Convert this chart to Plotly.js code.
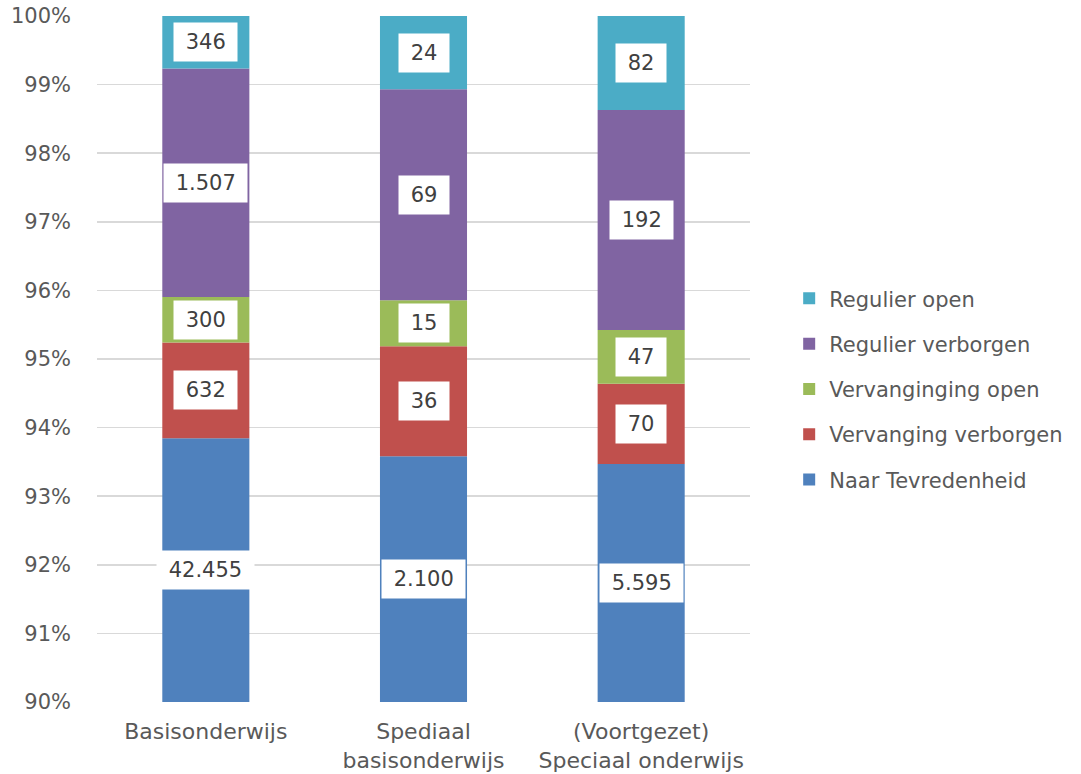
<!DOCTYPE html>
<html>
<head>
<meta charset="utf-8">
<script src="https://cdn.plot.ly/plotly-3.0.1.min.js"></script>
<style>html,body{margin:0;padding:0;background:#fff;}#chart{width:1081px;height:774px;}</style>
</head>
<body>
<div id="chart"></div>
<script>
const categories = ["Basisonderwijs", "Spediaal<br>basisonderwijs", "(Voortgezet)<br>Speciaal onderwijs"];
const seriesNames = ["Naar Tevredenheid", "Vervanging verborgen", "Vervanginging open", "Regulier verborgen", "Regulier open"];
const naarTevredenheid = [42455, 2100, 5595];
const vervangingVerborgen = [632, 36, 70];
const vervangingingOpen = [300, 15, 47];
const regulierVerborgen = [1507, 69, 192];
const regulierOpen = [346, 24, 82];
const labelText = [
  ["42.455", "2.100", "5.595"],
  ["632", "36", "70"],
  ["300", "15", "47"],
  ["1.507", "69", "192"],
  ["346", "24", "82"]
];
const colors = ["#4F81BD", "#C0504D", "#9BBB59", "#8064A2", "#4BACC6"];

const FONT = "DejaVu Sans, sans-serif";
const series = [naarTevredenheid, vervangingVerborgen, vervangingingOpen, regulierVerborgen, regulierOpen];
const totals = categories.map((c, i) => series.reduce((s, arr) => s + arr[i], 0));
const yMin = 0.9, yMax = 1.0;

const traces = [];
const annotations = [];
const cum = categories.map(() => 0);
series.forEach((arr, k) => {
  const frac = arr.map((v, i) => v / totals[i]);
  const base = cum.slice();
  traces.push({
    type: "bar",
    name: seriesNames[k],
    x: categories,
    y: frac,
    base: base,
    marker: {color: colors[k], line: {width: 0}},
    legendgroup: "g" + k,
    legendrank: series.length - k,
    hoverinfo: "name+text",
    text: labelText[k],
    textposition: "none"
  });
  frac.forEach((f, i) => {
    const lo = Math.max(base[i], yMin);
    const hi = Math.min(base[i] + f, yMax);
    annotations.push({
      x: categories[i], y: (lo + hi) / 2, xref: "x", yref: "y",
      text: "\u00a0" + labelText[k][i] + "\u00a0",
      showarrow: false,
      bgcolor: "#ffffff",
      borderpad: 5,
      height: 28,
      valign: "middle",
      font: {family: FONT, size: 21, color: "#404040"}
    });
    cum[i] += f;
  });
});

const layout = {
  width: 1081, height: 774,
  margin: {l: 97, r: 331, t: 16, b: 72},
  paper_bgcolor: "#ffffff", plot_bgcolor: "#ffffff",
  barmode: "overlay",
  bargap: 0.6,
  font: {family: FONT, size: 21, color: "#595959"},
  xaxis: {
    showline: false, showgrid: false, zeroline: false, ticks: "",
    tickfont: {family: FONT, size: 22, color: "#595959"}, automargin: false,
    ticklabelstandoff: 14
  },
  yaxis: {
    range: [yMin, yMax], dtick: 0.01, tickformat: ".0%",
    showgrid: true, gridcolor: "#D9D9D9", gridwidth: 1.5,
    zeroline: false, showline: false, ticks: "", ticklen: 0,
    tickfont: {family: FONT, size: 21, color: "#595959"}, automargin: false,
    ticklabelstandoff: 25
  },
  legend: {
    x: 1.06, xanchor: "left", y: 0.456, yanchor: "middle",
    traceorder: "grouped", tracegroupgap: 15,
    font: {family: FONT, size: 21, color: "#595959"},
    itemwidth: 30
  },
  annotations: annotations,
  showlegend: true
};

Plotly.newPlot("chart", traces, layout, {displayModeBar: false, staticPlot: true});
</script>
</body>
</html>
